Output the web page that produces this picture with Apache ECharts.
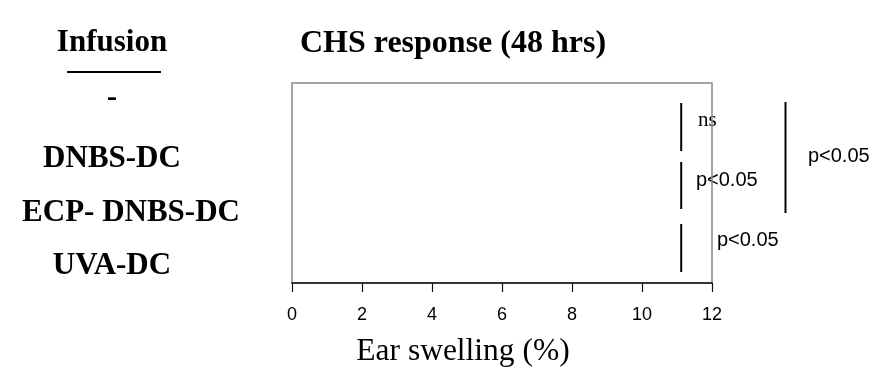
<!DOCTYPE html>
<html>
<head>
<meta charset="utf-8">
<script src="https://cdn.jsdelivr.net/npm/echarts@6/dist/echarts.min.js"></script>
<style>
  html, body { margin: 0; padding: 0; background: #fff; }
  #chart { width: 885px; height: 375px; }
</style>
</head>
<body>
<div id="chart"></div>
<script>
// ---- data ----
const infusionCategories = ['-', 'DNBS-DC', 'ECP- DNBS-DC', 'UVA-DC'];
const xTicks = [0, 2, 4, 6, 8, 10, 12];
// significance brackets (x in % ear swelling, y in row units 0..4 from the top)
const bracketX = [11.12, 11.12, 11.12, 14.1];
const bracketFrom = [0.4, 1.58, 2.82, 0.38];
const bracketTo = [1.36, 2.52, 3.78, 2.6];
const bracketLabels = ['ns', 'p<0.05', 'p<0.05', 'p<0.05'];
const bracketLabelX = [11.6, 11.54, 12.14, 14.74];
const bracketLabelY = [0.74, 1.94, 3.14, 1.46];

const titleText = 'CHS response (48 hrs)';
const groupTitle = 'Infusion';
const xAxisTitle = 'Ear swelling (%)';

const SERIF = '"Liberation Serif", "Times New Roman", serif';
const SANS = '"Liberation Sans", Arial, sans-serif';

const bracketData = bracketX.map((x, i) => [x, bracketFrom[i], bracketTo[i], bracketLabelX[i], bracketLabelY[i], bracketLabels[i]]);

// per-label fine adjustment of category text (styles only)
const labelRich = {
  a: { fontFamily: SERIF, fontWeight: 'bold', fontSize: 31, color: '#000', padding: [0, 0, 4, 0] },
  b: { fontFamily: SERIF, fontWeight: 'bold', fontSize: 31, color: '#000', padding: [5, 0, 0, 0] },
  c: { fontFamily: SERIF, fontWeight: 'bold', fontSize: 31, color: '#000', padding: [2, 0, 0, 38] },
  d: { fontFamily: SERIF, fontWeight: 'bold', fontSize: 31, color: '#000', padding: [0, 0, 4, 0] }
};
const richKeys = ['a', 'b', 'c', 'd'];

const chart = echarts.init(document.getElementById('chart'), null, { renderer: 'canvas' });

const option = {
  animation: false,
  backgroundColor: '#ffffff',
  grid: [
    { left: 292, top: 83, width: 420, height: 200, show: true, borderColor: '#888888', borderWidth: 1.5, backgroundColor: 'transparent' },
    { left: 200, top: 72, width: 10, height: 224, show: false }
  ],
  xAxis: [
    {
      gridIndex: 0, type: 'value', min: 0, max: 12, interval: 2, position: 'bottom',
      axisLine: { show: true, onZero: false, lineStyle: { color: '#111', width: 1.5 } },
      axisTick: { show: true, length: 9, lineStyle: { color: '#111', width: 1.2 } },
      axisLabel: {
        margin: 23, color: '#000', fontFamily: SANS, fontSize: 18,
        formatter: v => (xTicks.indexOf(v) >= 0 ? String(v) : '')
      },
      splitLine: { show: false }
    },
    { gridIndex: 1, type: 'value', show: false, min: 0, max: 1 }
  ],
  yAxis: [
    { gridIndex: 0, type: 'value', min: 0, max: 4, inverse: true, show: false },
    {
      gridIndex: 1, type: 'category', data: infusionCategories, inverse: true,
      axisLine: { show: false }, axisTick: { show: false }, splitLine: { show: false },
      axisLabel: {
        show: true, align: 'center', margin: 88,
        formatter: (v, i) => '{' + richKeys[i] + '|' + v + '}',
        rich: labelRich
      }
    }
  ],
  graphic: [
    { type: 'text', x: 453, y: 44, z: 10,
      style: { text: titleText, font: 'bold 32px ' + SERIF, fill: '#000', textAlign: 'center', textVerticalAlign: 'middle' } },
    { type: 'text', x: 112, y: 43, z: 10,
      style: { text: groupTitle, font: 'bold 31px ' + SERIF, fill: '#000', textAlign: 'center', textVerticalAlign: 'middle' } },
    { type: 'line', z: 10, shape: { x1: 67, y1: 72, x2: 161, y2: 72 }, style: { stroke: '#000', lineWidth: 2 } },
    { type: 'text', x: 463, y: 352, z: 10,
      style: { text: xAxisTitle, font: '31.5px ' + SERIF, fill: '#000', textAlign: 'center', textVerticalAlign: 'middle' } }
  ],
  series: [
    {
      type: 'custom',
      xAxisIndex: 0, yAxisIndex: 0,
      z: -1,
      clip: false,
      silent: true,
      data: bracketData,
      renderItem: function (params, api) {
        const x = api.value(0);
        const p0 = api.coord([x, api.value(1)]);
        const p1 = api.coord([x, api.value(2)]);
        const pl = api.coord([api.value(3), api.value(4)]);
        const label = bracketLabels[params.dataIndex];
        const isNs = label === 'ns';
        return {
          type: 'group',
          children: [
            { type: 'line', shape: { x1: p0[0], y1: p0[1], x2: p1[0], y2: p1[1] }, style: { stroke: '#000', lineWidth: 2 } },
            { type: 'text', x: pl[0], y: pl[1],
              style: { text: label, font: isNs ? ('21px ' + SERIF) : ('20px ' + SANS), fill: '#000', textAlign: 'left', textVerticalAlign: 'middle' } }
          ]
        };
      }
    }
  ]
};
chart.setOption(option);
</script>
</body>
</html>
